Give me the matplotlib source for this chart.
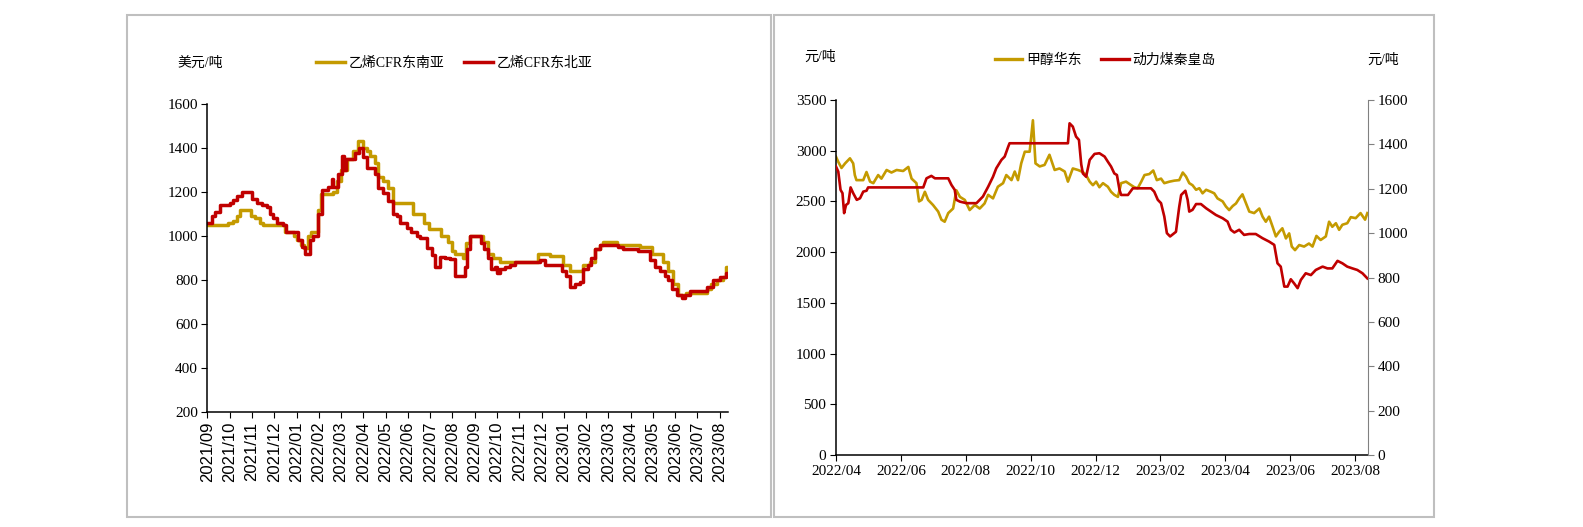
import matplotlib
matplotlib.use('Agg')
from matplotlib import pyplot as plt
from matplotlib.patches import Rectangle
from matplotlib.lines import Line2D

plt.rcParams['font.family'] = ['Liberation Serif', 'Noto Sans CJK SC']

gold = '#C49A00'
red = '#C00000'

# ---- left chart: ethylene, x = months since 2021/09 ----
left_ticks = ['2021/09', '2021/10', '2021/11', '2021/12', '2022/01', '2022/02', '2022/03',
              '2022/04', '2022/05', '2022/06', '2022/07', '2022/08', '2022/09', '2022/10',
              '2022/11', '2022/12', '2023/01', '2023/02', '2023/03', '2023/04', '2023/05',
              '2023/06', '2023/07', '2023/08']

sea_month = [0, 0.94, 1.16, 1.31, 1.46, 1.95, 2.13, 2.36, 2.5, 3.5, 3.9, 4.0, 4.2, 4.35, 4.5,
             4.65, 4.95, 5.1, 5.65, 5.8, 6.0, 6.25, 6.55, 6.75, 6.99, 7.14, 7.3, 7.52, 7.67,
             7.89, 8.12, 8.34, 9.25, 9.7, 9.95, 10.5, 10.81, 11.0, 11.1, 11.48, 11.6, 11.78,
             12.38, 12.6, 12.83, 13.13, 14.85, 15.37, 15.97, 16.27, 16.87, 17.17, 17.39,
             17.62, 17.77, 18.37, 19.41, 19.94, 20.46, 20.69, 20.91, 21.14, 21.5, 22.45,
             22.6, 22.9, 23.15, 23.3, 23.35]
sea_price = [1050, 1060, 1070, 1090, 1120, 1090, 1080, 1060, 1050, 1020, 1000, 980, 960, 945, 1000,
             1020, 1120, 1190, 1200, 1250, 1300, 1350, 1385, 1430, 1400, 1385, 1365, 1330, 1270,
             1250, 1220, 1150, 1100, 1060, 1030, 1000, 975, 930, 920, 900, 970, 1000,
             975, 920, 900, 880, 920, 910, 870, 840, 870, 880, 940,
             960, 975, 960, 950, 920, 880, 840, 780, 730, 740, 760,
             780, 800, 815, 860, 860]

nea_month = [0, 0.19, 0.34, 0.56, 1.01, 1.16, 1.31, 1.53, 1.98, 2.21, 2.44, 2.66, 2.81, 2.96,
             3.11, 3.41, 3.52, 4.08, 4.23, 4.38, 4.6, 4.75, 4.97, 5.12, 5.42, 5.57, 5.65, 5.87,
             6.02, 6.12, 6.2, 6.62, 6.81, 6.99, 7.14, 7.52, 7.67, 7.89, 8.12, 8.31, 8.49, 8.64,
             8.94, 9.16, 9.39, 9.54, 9.84, 10.06, 10.21, 10.44, 10.66, 10.89, 11.11, 11.55,
             11.65, 11.8, 12.28, 12.42, 12.6, 12.75, 12.9, 12.98, 13.13, 13.35, 13.58, 13.8,
             14.92, 15.15, 15.9, 16.12, 16.27, 16.5, 16.72, 16.87, 17.1, 17.24, 17.39, 17.62,
             18.44, 18.66, 19.34, 19.86, 20.09, 20.31, 20.54, 20.69, 20.84, 21.06, 21.29,
             21.43, 21.66, 22.41, 22.71, 23.01, 23.3, 23.35]
nea_price = [1060, 1090, 1110, 1140, 1150, 1165, 1180, 1200, 1170, 1150, 1140, 1130, 1100, 1080,
             1060, 1050, 1020, 980, 950, 920, 980, 1000, 1100, 1210, 1225, 1260, 1225, 1280,
             1365, 1300, 1350, 1377, 1400, 1360, 1310, 1280, 1220, 1195, 1160, 1100, 1090, 1060,
             1035, 1020, 1000, 990, 945, 915, 860, 905, 900, 895, 820, 860,
             940, 1000, 970, 940, 900, 850, 860, 830, 850, 860, 870, 880,
             890, 870, 840, 820, 770, 780, 790, 850, 870, 900, 940, 960,
             950, 940, 930, 890, 860, 840, 820, 800, 760, 730, 720,
             730, 750, 770, 800, 815, 830, 830]

# ---- right chart: methanol / thermal coal, x = months since 2022/04 ----
right_ticks = ['2022/04', '2022/06', '2022/08', '2022/10', '2022/12', '2023/02', '2023/04',
               '2023/06', '2023/08']

meth_month = [0, 0.07, 0.17, 0.28, 0.43, 0.53, 0.58, 0.63, 0.84, 0.94, 1.05, 1.15, 1.3, 1.4,
              1.56, 1.71, 1.87, 2.07, 2.23, 2.33, 2.48, 2.56, 2.64, 2.74, 2.84, 2.99, 3.15,
              3.25, 3.35, 3.46, 3.61, 3.71, 3.82, 3.97, 4.12, 4.28, 4.43, 4.58, 4.69, 4.84,
              4.99, 5.15, 5.25, 5.41, 5.51, 5.61, 5.71, 5.82, 5.97, 6.07, 6.15, 6.28, 6.43,
              6.58, 6.74, 6.89, 7.05, 7.15, 7.3, 7.46, 7.61, 7.71, 7.82, 7.92, 8.02, 8.12,
              8.23, 8.38, 8.48, 8.58, 8.69, 8.79, 8.94, 9.1, 9.2, 9.3, 9.41, 9.51, 9.66, 9.78,
              9.89, 10.02, 10.12, 10.28, 10.43, 10.58, 10.69, 10.79, 10.89, 10.99, 11.1, 11.2,
              11.3, 11.41, 11.56, 11.66, 11.76, 11.92, 12.02, 12.12, 12.23, 12.33, 12.43,
              12.53, 12.64, 12.74, 12.89, 13.05, 13.15, 13.25, 13.35, 13.46, 13.56, 13.66,
              13.76, 13.87, 13.97, 14.05, 14.15, 14.28, 14.43, 14.58, 14.69, 14.81, 14.94,
              15.1, 15.2, 15.3, 15.41, 15.51, 15.61, 15.76, 15.87, 16.02, 16.17, 16.31, 16.38]
meth_price = [2940, 2890, 2830, 2875, 2925, 2875, 2760, 2710, 2710, 2790, 2695, 2680, 2760, 2725,
              2810, 2785, 2810, 2800, 2840, 2725, 2680, 2500, 2515, 2595, 2515, 2465, 2400,
              2320, 2300, 2385, 2430, 2610, 2545, 2515, 2415, 2465, 2430, 2480, 2565, 2530,
              2645, 2680, 2760, 2710, 2795, 2710, 2875, 2990, 2990, 3300, 2875, 2845, 2860,
              2960, 2810, 2825, 2795, 2695, 2825, 2810, 2790, 2760, 2695, 2660, 2695, 2640,
              2680, 2645, 2595, 2565, 2545, 2680, 2695, 2660, 2640, 2630, 2695, 2760, 2770, 2805,
              2710, 2725, 2680, 2695, 2705, 2710, 2785, 2745, 2680, 2660, 2615, 2630,
              2580, 2615, 2595, 2580, 2530, 2500, 2450, 2415, 2455, 2480, 2530,
              2570, 2480, 2400, 2385, 2430, 2350, 2300, 2350, 2250, 2155, 2200,
              2235, 2135, 2185, 2055, 2020, 2070, 2055, 2085, 2055, 2160, 2120,
              2155, 2300, 2250, 2285, 2220, 2270, 2285, 2345, 2335, 2385, 2320, 2385]

coal_month = [0, 0.07, 0.14, 0.2, 0.25, 0.31, 0.38, 0.45, 0.53, 0.64, 0.74, 0.84, 0.94, 0.99,
              2.69, 2.79, 2.94, 3.05, 3.46, 3.56, 3.66, 3.71, 3.82, 4.02, 4.33, 4.43, 4.53,
              4.69, 4.84, 4.94, 5.1, 5.2, 5.31, 5.35, 7.15, 7.2, 7.3, 7.4, 7.49, 7.56, 7.61,
              7.71, 7.82, 7.97, 8.12, 8.28, 8.38, 8.48, 8.58, 8.66, 8.74, 8.79, 9.0, 9.15,
              9.71, 9.81, 9.92, 10.02, 10.12, 10.2, 10.3, 10.48, 10.58, 10.64, 10.77, 10.84,
              10.89, 10.99, 11.1, 11.25, 11.41, 11.56, 11.71, 11.92, 12.07, 12.17, 12.28,
              12.43, 12.58, 12.74, 12.94, 13.15, 13.35, 13.51, 13.61, 13.71, 13.82, 13.92,
              14.02, 14.12, 14.23, 14.33, 14.48, 14.64, 14.79, 15.0, 15.15, 15.3, 15.46,
              15.61, 15.76, 15.92, 16.07, 16.23, 16.38]
coal_price = [1300, 1277, 1195, 1180, 1090, 1127, 1135, 1206, 1180, 1150, 1157, 1187, 1191, 1206,
              1206, 1247, 1258, 1247, 1247, 1217, 1195, 1150, 1142, 1135, 1135, 1150, 1165,
              1209, 1254, 1292, 1330, 1345, 1390, 1405, 1405, 1495, 1480, 1435, 1420, 1310, 1269,
              1254, 1330, 1357, 1360, 1345, 1322, 1300, 1269, 1262, 1195, 1172, 1172, 1202,
              1202, 1187, 1150, 1135, 1075, 1000, 985, 1006, 1118, 1172, 1191, 1150,
              1097, 1105, 1131, 1131, 1112, 1097, 1082, 1067, 1052, 1015, 1003,
              1015, 992, 996, 996, 977, 962, 947, 864, 849, 759, 759,
              792, 774, 752, 789, 819, 811, 834, 849, 841, 841, 875,
              864, 849, 841, 834, 819, 796]

W, H = 1583, 527
fig = plt.figure(figsize=(W / 100, H / 100), dpi=100)

# panel frames
for x0, x1 in [(127, 771), (774, 1434)]:
    fig.patches.append(Rectangle((x0 / W, 1 - 517 / H), (x1 - x0) / W, 502 / H,
                                 transform=fig.transFigure, fill=False,
                                 edgecolor='#BFBFBF', linewidth=1.5))

# left chart
ax = fig.add_axes([207.5 / W, 1 - 412 / H, 520 / W, 308 / H])
ax.plot(sea_month, sea_price, color=gold, lw=2.5, drawstyle='steps-post', label='乙烯CFR东南亚')
ax.plot(nea_month, nea_price, color=red, lw=2.5, drawstyle='steps-post', label='乙烯CFR东北亚')
ax.set_xlim(0, 23.35)
ax.set_ylim(200, 1600)
ax.set_yticks(range(200, 1601, 200))
ax.set_xticks(range(len(left_ticks)))
ax.set_xticklabels(left_ticks, rotation=90, family='Liberation Sans', fontsize=12)
ax.tick_params(axis='y', labelsize=11, direction='out', length=4, pad=3)
ax.tick_params(axis='x', direction='out', length=4, pad=3)
for s in ['top', 'right']:
    ax.spines[s].set_visible(False)
for s in ['left', 'bottom']:
    ax.spines[s].set_linewidth(1.1)
ax.legend(loc='center', bbox_to_anchor=(454 / W, 1 - 63 / H), bbox_transform=fig.transFigure,
          ncol=2, frameon=False, fontsize=10, handlelength=2.1, handletextpad=0.25,
          columnspacing=1.4)
fig.text(200 / W, 1 - 63 / H, '美元/吨', fontsize=10, ha='center', va='center')

# right chart
ax1 = fig.add_axes([836 / W, 1 - 455 / H, 532 / W, 355 / H])
ax2 = ax1.twinx()
ax1.plot(meth_month, meth_price, color=gold, lw=1.9)
ax2.plot(coal_month, coal_price, color=red, lw=1.9)
ax1.set_xlim(0, 16.4)
ax1.set_ylim(0, 3500)
ax2.set_ylim(0, 1600)
ax1.set_yticks(range(0, 3501, 500))
ax2.set_yticks(range(0, 1601, 200))
ax1.set_xticks(range(0, 17, 2))
ax1.set_xticklabels(right_ticks)
ax1.tick_params(labelsize=11, direction='out', length=4, pad=3)
ax2.tick_params(labelsize=11, direction='out', length=4, pad=3, color='#808080')
ax1.spines['top'].set_visible(False)
ax1.spines['right'].set_visible(False)
for s in ['top', 'left', 'bottom']:
    ax2.spines[s].set_visible(False)
ax2.spines['right'].set_color('#808080')
for s in ['left', 'bottom']:
    ax1.spines[s].set_linewidth(1.1)
handles = [Line2D([], [], color=gold, lw=2.4), Line2D([], [], color=red, lw=2.4)]
ax1.legend(handles, ['甲醇华东', '动力煤秦皇岛'], loc='center',
           bbox_to_anchor=(1105 / W, 1 - 60 / H), bbox_transform=fig.transFigure,
           ncol=2, frameon=False, fontsize=10, handlelength=2.0, handletextpad=0.25,
           columnspacing=1.4)
fig.text(820 / W, 1 - 57 / H, '元/吨', fontsize=10, ha='center', va='center')
fig.text(1367 / W, 1 - 60 / H, '元/吨', fontsize=10, ha='left', va='center')

fig.savefig('out.png', dpi=100)
